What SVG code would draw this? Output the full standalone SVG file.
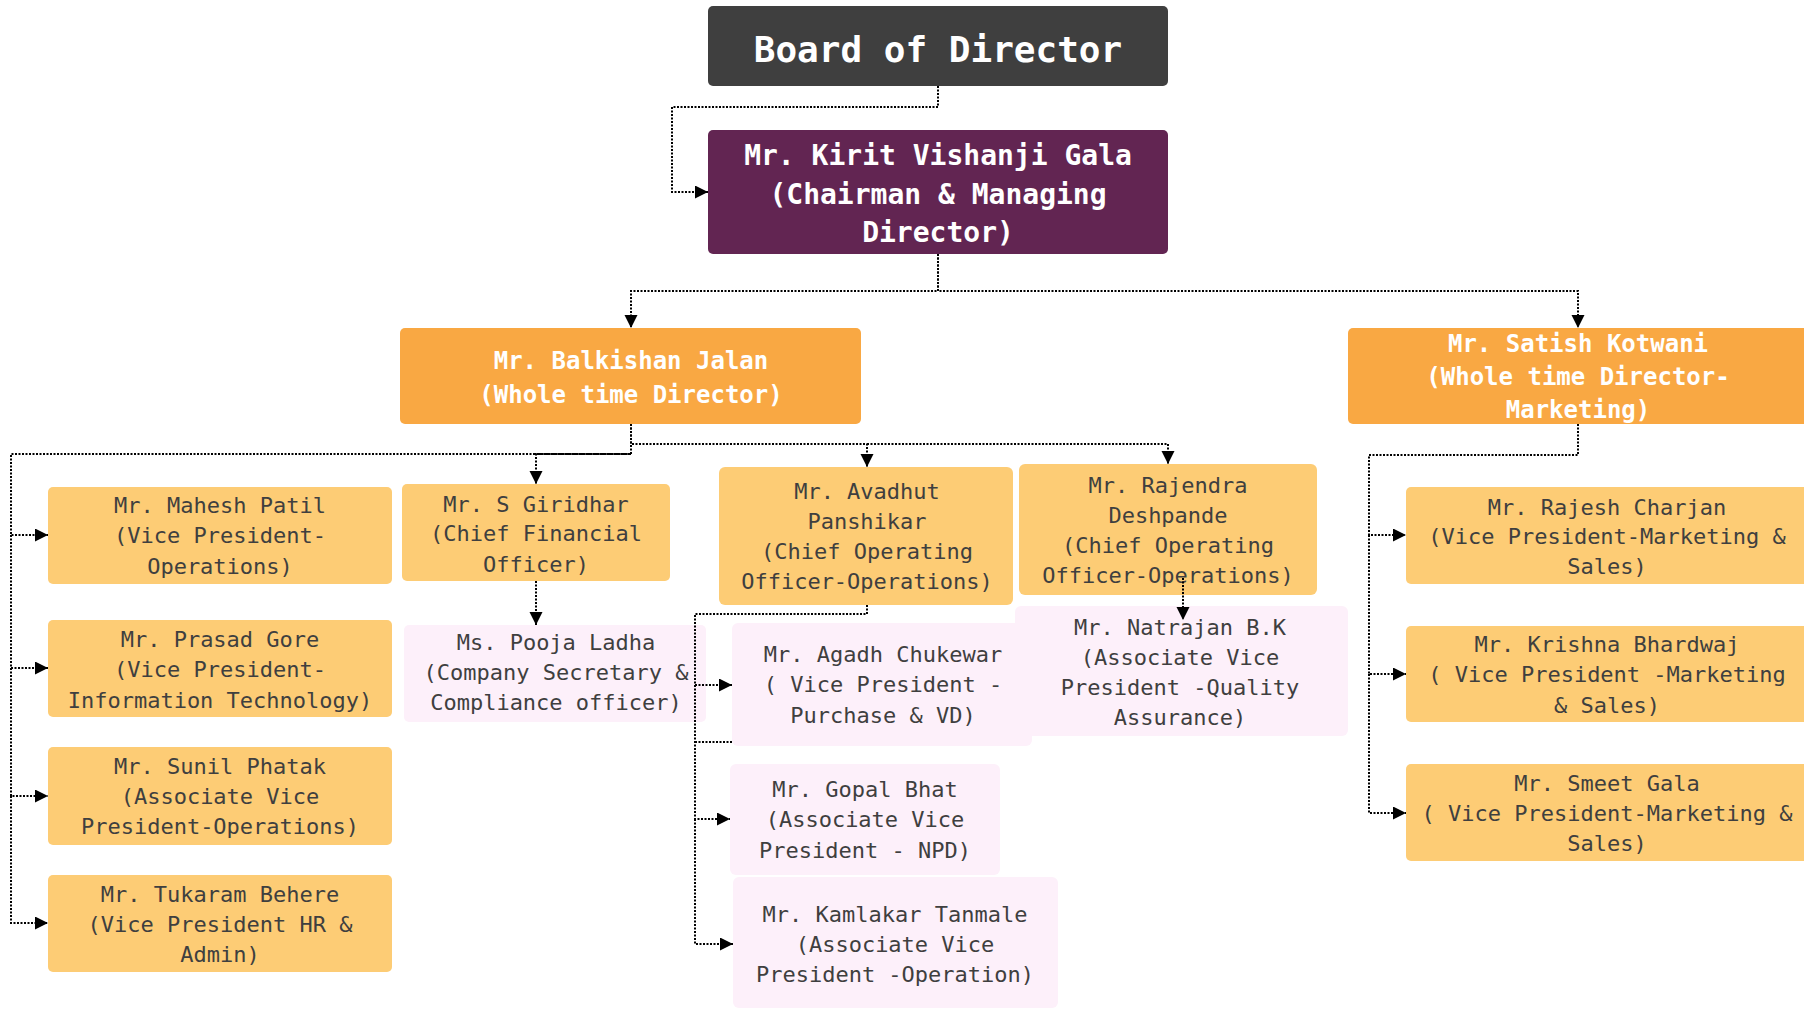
<svg xmlns="http://www.w3.org/2000/svg" width="1804" height="1009" viewBox="0 0 1804 1009">
<style>
text{font-family:"DejaVu Sans Mono","Liberation Mono",monospace;text-anchor:middle}
.w{fill:#ffffff;font-weight:bold}
.d{fill:#3f3f3f;font-size:22px}
.board{fill:#3f3f3f}
.chair{fill:#622552}
.or{fill:#f9a843}
.lo{fill:#fdcc75}
.pk{fill:#fdf0fa}
.c{fill:none;stroke:#000;stroke-width:2;stroke-dasharray:2 1.5}
</style>
<defs>
<marker id="ah" markerUnits="userSpaceOnUse" markerWidth="14" markerHeight="14" refX="13" refY="6.5" orient="auto">
<path d="M0,0 L13,6.5 L0,13 z" fill="#000"/>
</marker>
</defs>
<rect width="1804" height="1009" fill="#ffffff"/>
<g id="nodes">
<g id="board"><rect class="board" x="708" y="6" width="460" height="80" rx="5"/><text class="w" x="938" y="62" font-size="36">Board of Director</text></g>
<g id="chairman"><rect class="chair" x="708" y="130" width="460" height="124" rx="5"/><text class="w" font-size="28"><tspan x="938" y="165">Mr. Kirit Vishanji Gala</tspan><tspan x="938" y="204">(Chairman &amp; Managing</tspan><tspan x="938" y="242">Director)</tspan></text></g>
<g id="balkishan"><rect class="or" x="400" y="328" width="461" height="96" rx="5"/><text class="w" font-size="24"><tspan x="631" y="369">Mr. Balkishan Jalan</tspan><tspan x="631" y="403">(Whole time Director)</tspan></text></g>
<g id="satish"><rect class="or" x="1348" y="328" width="461" height="96" rx="5"/><text class="w" font-size="24"><tspan x="1578" y="352">Mr. Satish Kotwani</tspan><tspan x="1578" y="385">(Whole time Director-</tspan><tspan x="1578" y="418">Marketing)</tspan></text></g>
<g id="mahesh"><rect class="lo" x="48" y="487" width="344" height="97" rx="5"/><text class="d"><tspan x="220" y="513">Mr. Mahesh Patil</tspan><tspan x="220" y="543">(Vice President-</tspan><tspan x="220" y="574">Operations)</tspan></text></g>
<g id="prasad"><rect class="lo" x="48" y="620" width="344" height="97" rx="5"/><text class="d"><tspan x="220" y="647">Mr. Prasad Gore</tspan><tspan x="220" y="677">(Vice President-</tspan><tspan x="220" y="708">Information Technology)</tspan></text></g>
<g id="sunil"><rect class="lo" x="48" y="747" width="344" height="98" rx="5"/><text class="d"><tspan x="220" y="774">Mr. Sunil Phatak</tspan><tspan x="220" y="804">(Associate Vice</tspan><tspan x="220" y="834">President-Operations)</tspan></text></g>
<g id="tukaram"><rect class="lo" x="48" y="875" width="344" height="97" rx="5"/><text class="d"><tspan x="220" y="902">Mr. Tukaram Behere</tspan><tspan x="220" y="932">(Vice President HR &amp;</tspan><tspan x="220" y="962">Admin)</tspan></text></g>
<g id="giridhar"><rect class="lo" x="402" y="484" width="268" height="97" rx="5"/><text class="d"><tspan x="536" y="512">Mr. S Giridhar</tspan><tspan x="536" y="541">(Chief Financial</tspan><tspan x="536" y="572">Officer)</tspan></text></g>
<g id="pooja"><rect class="pk" x="404" y="625" width="302" height="97" rx="5"/><text class="d"><tspan x="556" y="650">Ms. Pooja Ladha</tspan><tspan x="556" y="680">(Company Secretary &amp;</tspan><tspan x="556" y="710">Compliance officer)</tspan></text></g>
<g id="avadhut"><rect class="lo" x="719" y="467" width="294" height="138" rx="6"/><text class="d"><tspan x="867" y="499">Mr. Avadhut</tspan><tspan x="867" y="529">Panshikar</tspan><tspan x="867" y="559">(Chief Operating</tspan><tspan x="867" y="589">Officer-Operations)</tspan></text></g>
<g id="rajendra"><rect class="lo" x="1019" y="464" width="298" height="131" rx="6"/><text class="d"><tspan x="1168" y="493">Mr. Rajendra</tspan><tspan x="1168" y="523">Deshpande</tspan><tspan x="1168" y="553">(Chief Operating</tspan><tspan x="1168" y="583">Officer-Operations)</tspan></text></g>
<g id="agadh"><rect class="pk" x="732" y="623" width="300" height="123" rx="6"/><text class="d"><tspan x="883" y="662">Mr. Agadh Chukewar</tspan><tspan x="883" y="692">( Vice President -</tspan><tspan x="883" y="723">Purchase &amp; VD)</tspan></text></g>
<g id="natrajan"><rect class="pk" x="1015" y="606" width="333" height="130" rx="6"/><text class="d"><tspan x="1180" y="635">Mr. Natrajan B.K</tspan><tspan x="1180" y="665">(Associate Vice</tspan><tspan x="1180" y="695">President -Quality</tspan><tspan x="1180" y="725">Assurance)</tspan></text></g>
<g id="gopal"><rect class="pk" x="730" y="764" width="270" height="111" rx="6"/><text class="d"><tspan x="865" y="797">Mr. Gopal Bhat</tspan><tspan x="865" y="827">(Associate Vice</tspan><tspan x="865" y="858">President - NPD)</tspan></text></g>
<g id="kamlakar"><rect class="pk" x="733" y="877" width="325" height="131" rx="6"/><text class="d"><tspan x="895" y="922">Mr. Kamlakar Tanmale</tspan><tspan x="895" y="952">(Associate Vice</tspan><tspan x="895" y="982">President -Operation)</tspan></text></g>
<g id="rajesh"><rect class="lo" x="1406" y="487" width="402" height="97" rx="5"/><text class="d"><tspan x="1607" y="515">Mr. Rajesh Charjan</tspan><tspan x="1607" y="544">(Vice President-Marketing &amp;</tspan><tspan x="1607" y="574">Sales)</tspan></text></g>
<g id="krishna"><rect class="lo" x="1406" y="626" width="402" height="96" rx="5"/><text class="d"><tspan x="1607" y="652">Mr. Krishna Bhardwaj</tspan><tspan x="1607" y="682">( Vice President -Marketing</tspan><tspan x="1607" y="713">&amp; Sales)</tspan></text></g>
<g id="smeet"><rect class="lo" x="1406" y="764" width="402" height="97" rx="5"/><text class="d"><tspan x="1607" y="791">Mr. Smeet Gala</tspan><tspan x="1607" y="821">( Vice President-Marketing &amp;</tspan><tspan x="1607" y="851">Sales)</tspan></text></g>
</g>
<g id="connectors">
<path class="c" d="M938,86 V107 H672 V192 H708" marker-end="url(#ah)"/>
<path class="c" d="M938,254 V291 H631 V328" marker-end="url(#ah)"/>
<path class="c" d="M938,254 V291 H1578 V328" marker-end="url(#ah)"/>
<path class="c" d="M631,424 V454 H11 V535 H48" marker-end="url(#ah)"/>
<path class="c" d="M11,535 V668 H48" marker-end="url(#ah)"/>
<path class="c" d="M11,668 V796 H48" marker-end="url(#ah)"/>
<path class="c" d="M11,796 V923 H48" marker-end="url(#ah)"/>
<path class="c" d="M631,454 H536 V484" marker-end="url(#ah)"/>
<path class="c" d="M631,424 V444 H867 V467" marker-end="url(#ah)"/>
<path class="c" d="M867,444 H1168 V464" marker-end="url(#ah)"/>
<path class="c" d="M536,581 V625" marker-end="url(#ah)"/>
<path class="c" d="M1183,578 V620" marker-end="url(#ah)"/>
<path class="c" d="M867,605 V614 H695 V685 H732" marker-end="url(#ah)"/>
<path class="c" d="M695,685 V819 H730" marker-end="url(#ah)"/>
<path class="c" d="M695,819 V944 H733" marker-end="url(#ah)"/>
<path class="c" d="M695,742 H732"/>
<path class="c" d="M1578,424 V455 H1369 V535 H1406" marker-end="url(#ah)"/>
<path class="c" d="M1369,535 V674 H1406" marker-end="url(#ah)"/>
<path class="c" d="M1369,674 V813 H1406" marker-end="url(#ah)"/>
</g>
</svg>
